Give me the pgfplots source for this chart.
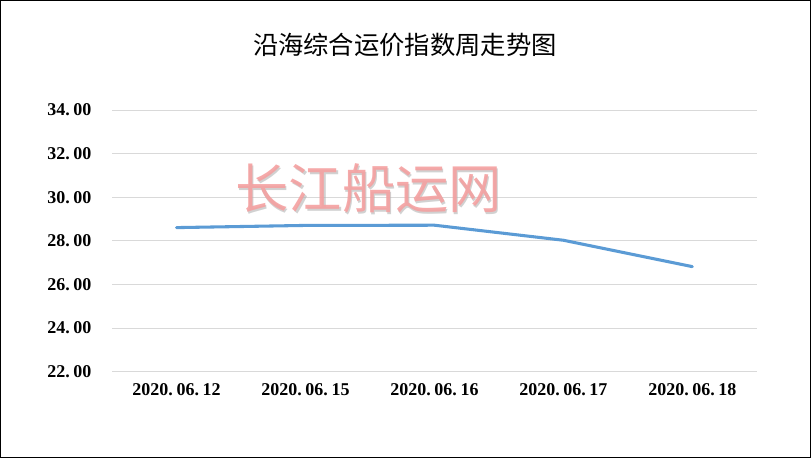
\documentclass[border=0pt]{standalone}
\usepackage{fontspec}
\setmainfont{Liberation Serif}
\newfontfamily\cjk{Noto Sans CJK SC}
\usepackage{pgfplots}
\pgfplotsset{compat=1.18}
\definecolor{lineblue}{HTML}{5B9BD5}
\definecolor{gridgray}{HTML}{D9D9D9}
\definecolor{wmred}{HTML}{F4A0A0}

\begin{document}
\begin{tikzpicture}
\begin{axis}[
    name=ax,
    at={(0,0)}, anchor=south west,
    scale only axis,
    width=483.75pt, height=196.3pt,
    xmin=-0.5, xmax=4.5,
    ymin=22, ymax=34,
    xtick={0,1,2,3,4},
    xticklabels={2020.\hspace{.2em}06.\hspace{.2em}12, 2020.\hspace{.2em}06.\hspace{.2em}15, 2020.\hspace{.2em}06.\hspace{.2em}16, 2020.\hspace{.2em}06.\hspace{.2em}17, 2020.\hspace{.2em}06.\hspace{.2em}18},
    ytick={22,24,26,28,30,32,34},
    yticklabels={22.\hspace{.2em}00, 24.\hspace{.2em}00, 26.\hspace{.2em}00, 28.\hspace{.2em}00, 30.\hspace{.2em}00, 32.\hspace{.2em}00, 34.\hspace{.2em}00},
    ymajorgrids=true,
    grid style={gridgray, line width=0.75pt},
    axis line style={draw=none},
    major tick length=0pt,
    xticklabel style={font=\bfseries\fontsize{13.5}{15}\selectfont, yshift=-5pt},
    yticklabel style={font=\bfseries\fontsize{13.5}{15}\selectfont, xshift=-12pt},
    clip=false,
]
\node[text=black!30, opacity=0.6, font=\cjk\fontsize{40}{42}\selectfont] at ([shift={(1pt,-1pt)}]axis cs:1.49,30.4) {长江船运网};
\node[text=wmred, opacity=0.9, font=\cjk\fontsize{40}{42}\selectfont] at (axis cs:1.49,30.4) {长江船运网};
\addplot[color=lineblue, line width=2.3pt, line join=round, line cap=round] coordinates {
    (0,28.61)
    (1,28.71)
    (2,28.72)
    (3,28.03)
    (4,26.82)
};
\end{axis}
\node[font=\cjk\fontsize{19}{21}\selectfont] at ([shift={(219.75pt,245pt)}]ax.south west) {沿海综合运价指数周走势图};
\draw[black, line width=1pt] ([shift={(-83.6pt,-64.35pt)}]ax.south west) rectangle ++(607.5pt,342.75pt);
\end{tikzpicture}
\end{document}
